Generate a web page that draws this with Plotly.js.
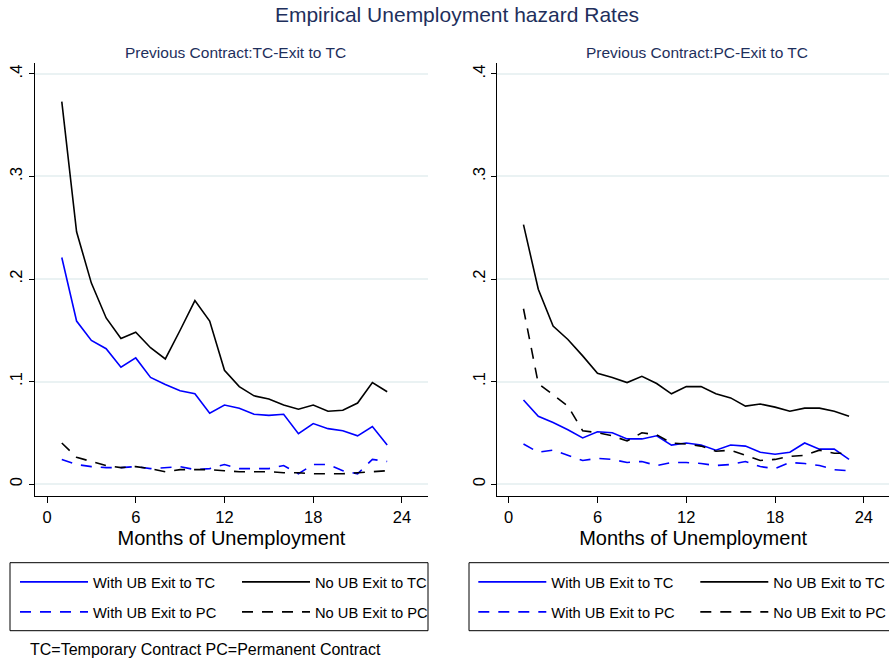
<!DOCTYPE html>
<html>
<head>
<meta charset="utf-8">
<script src="https://cdn.plot.ly/plotly-3.0.1.min.js"></script>
<style>html,body{margin:0;padding:0;background:#fff;}#chart{width:889px;height:659px;}</style>
</head>
<body>
<div id="chart"></div>
<script>
// ---- Data ----
const months = [1,2,3,4,5,6,7,8,9,10,11,12,13,14,15,16,17,18,19,20,21,22,23];

// Panel 1: Previous Contract: TC
const tcWithUBtoTC = [0.221,0.159,0.140,0.132,0.114,0.123,0.104,0.097,0.091,0.088,0.069,0.077,0.074,0.068,0.067,0.068,0.049,0.059,0.054,0.052,0.047,0.056,0.038];
const tcNoUBtoTC   = [0.373,0.246,0.196,0.162,0.142,0.148,0.133,0.122,0.150,0.179,0.159,0.111,0.095,0.086,0.083,0.077,0.073,0.077,0.071,0.072,0.079,0.099,0.090];
const tcWithUBtoPC = [0.024,0.019,0.017,0.016,0.016,0.017,0.015,0.016,0.017,0.014,0.015,0.019,0.015,0.015,0.015,0.018,0.010,0.019,0.019,0.013,0.010,0.024,0.022];
const tcNoUBtoPC   = [0.040,0.026,0.022,0.018,0.016,0.017,0.015,0.012,0.014,0.014,0.014,0.013,0.012,0.012,0.012,0.011,0.011,0.010,0.010,0.010,0.011,0.012,0.013];

// Panel 2: Previous Contract: PC
const pcWithUBtoTC = [0.082,0.066,0.060,0.053,0.045,0.051,0.050,0.044,0.044,0.047,0.038,0.040,0.038,0.033,0.038,0.037,0.031,0.029,0.031,0.040,0.034,0.034,0.024];
const pcNoUBtoTC   = [0.253,0.190,0.154,0.141,0.125,0.108,0.104,0.099,0.105,0.098,0.088,0.095,0.095,0.088,0.084,0.076,0.078,0.075,0.071,0.074,0.074,0.071,0.066];
const pcWithUBtoPC = [0.039,0.031,0.033,0.028,0.023,0.025,0.024,0.021,0.022,0.018,0.021,0.021,0.020,0.018,0.019,0.022,0.017,0.015,0.021,0.020,0.018,0.014,0.013];
const pcNoUBtoPC   = [0.171,0.098,0.087,0.076,0.052,0.050,0.047,0.042,0.050,0.048,0.040,0.039,0.037,0.032,0.033,0.028,0.023,0.024,0.027,0.028,0.033,0.030,0.030];

const seriesNames = ['With UB Exit to TC','No UB Exit to TC','With UB Exit to PC','No UB Exit to PC'];
const panelTitles = ['Previous Contract:TC-Exit to TC','Previous Contract:PC-Exit to TC'];
const xTickVals = [0,6,12,18,24];
const yTickVals = [0,0.1,0.2,0.3,0.4];
const yTickText = ['0','.1','.2','.3','.4'];
const mainTitle = 'Empirical Unemployment hazard Rates';
const xTitle = 'Months of Unemployment';
const footnote = 'TC=Temporary Contract PC=Permanent Contract';

// ---- Layout helpers ----
const W = 889, H = 659;
const px = v => v / W;
const py = v => 1 - v / H;
const FONT = 'Liberation Sans, Arial, Helvetica, sans-serif';
const BLUE = '#0000ff', BLACK = '#000000';
const DASH = '11px,9px';

function tr(y, name, color, dash, xa, ya, legend) {
  return {
    x: months, y: y, name: name, type: 'scatter', mode: 'lines',
    line: {color: color, width: 1.6, dash: dash},
    xaxis: xa, yaxis: ya, legend: legend, hoverinfo: 'x+y+name'
  };
}

const data = [
  tr(tcWithUBtoTC, seriesNames[0], BLUE,  'solid', 'x',  'y',  'legend'),
  tr(tcNoUBtoTC,   seriesNames[1], BLACK, 'solid', 'x',  'y',  'legend'),
  tr(tcWithUBtoPC, seriesNames[2], BLUE,  DASH,    'x',  'y',  'legend2'),
  tr(tcNoUBtoPC,   seriesNames[3], BLACK, DASH,    'x',  'y',  'legend2'),
  tr(pcWithUBtoTC, seriesNames[0], BLUE,  'solid', 'x2', 'y2', 'legend3'),
  tr(pcNoUBtoTC,   seriesNames[1], BLACK, 'solid', 'x2', 'y2', 'legend3'),
  tr(pcWithUBtoPC, seriesNames[2], BLUE,  DASH,    'x2', 'y2', 'legend4'),
  tr(pcNoUBtoPC,   seriesNames[3], BLACK, DASH,    'x2', 'y2', 'legend4')
];

function xAxis(domain, range, anchor) {
  return {
    domain: domain, range: range, anchor: anchor,
    tickmode: 'array', tickvals: xTickVals, ticktext: xTickVals.map(String),
    ticks: 'outside', ticklen: 6, tickwidth: 1, tickcolor: '#000',
    showline: true, linecolor: '#000', linewidth: 1,
    showgrid: false, zeroline: false,
    tickfont: {family: FONT, size: 16.5, color: '#000'},
    title: {text: xTitle, font: {family: FONT, size: 20, color: '#000'}, standoff: 6},
    fixedrange: true
  };
}
function yAxis(domain, anchor) {
  return {
    domain: domain, range: [-0.0114, 0.4112], anchor: anchor,
    tickmode: 'array', tickvals: yTickVals, ticktext: yTickText,
    tickangle: -90,
    ticks: 'outside', ticklen: 5, tickwidth: 1, tickcolor: '#000',
    showline: true, linecolor: '#000', linewidth: 1,
    showgrid: true, gridcolor: '#eaf2f3', gridwidth: 2,
    zeroline: false,
    tickfont: {family: FONT, size: 16.5, color: '#000'},
    fixedrange: true
  };
}

function legendAt(xLeft, yTop) {
  return {
    orientation: 'h', x: px(xLeft), xanchor: 'left', y: py(yTop), yanchor: 'top',
    xref: 'paper', yref: 'paper',
    bgcolor: 'rgba(0,0,0,0)', borderwidth: 0,
    itemwidth: 68, entrywidth: 139, entrywidthmode: 'pixels',
    traceorder: 'normal',
    font: {family: FONT, size: 14.7, color: '#000'},
    itemclick: false, itemdoubleclick: false
  };
}

const titleColor = '#1e2f5c';
const yDomain = [py(495.7), py(62.5)];

const layout = {
  width: W, height: H,
  margin: {l: 0, r: 0, t: 0, b: 0, autoexpand: false},
  paper_bgcolor: '#ffffff', plot_bgcolor: '#ffffff',
  font: {family: FONT, color: '#000'},
  title: {text: mainTitle, x: 457 / W, xanchor: 'center', xref: 'container',
          y: 1 - 15 / H, yanchor: 'middle', yref: 'container',
          font: {family: FONT, size: 21, color: titleColor}},
  xaxis:  xAxis([px(35), px(428)], [-0.811, 25.76], 'y'),
  yaxis:  yAxis(yDomain, 'x'),
  xaxis2: xAxis([px(497.3), 1], [-0.77, 25.7], 'y2'),
  yaxis2: yAxis(yDomain, 'x2'),
  legend:  legendAt(15, 565.8),
  legend2: legendAt(15, 595.8),
  legend3: legendAt(473.3, 565.8),
  legend4: legendAt(473.3, 595.8),
  shapes: [
    {type: 'rect', xref: 'paper', yref: 'paper', x0: px(10), x1: px(428), y0: py(630.7), y1: py(562.7),
     line: {color: '#000', width: 1}, fillcolor: 'rgba(0,0,0,0)', layer: 'above'},
    {type: 'rect', xref: 'paper', yref: 'paper', x0: px(469), x1: px(893), y0: py(630.7), y1: py(562.7),
     line: {color: '#000', width: 1}, fillcolor: 'rgba(0,0,0,0)', layer: 'above'}
  ],
  annotations: [
    {text: panelTitles[0], xref: 'paper', yref: 'paper', x: px(236), y: py(52), xanchor: 'center', yanchor: 'middle',
     showarrow: false, font: {family: FONT, size: 15.5, color: titleColor}},
    {text: panelTitles[1], xref: 'paper', yref: 'paper', x: px(697), y: py(52), xanchor: 'center', yanchor: 'middle',
     showarrow: false, font: {family: FONT, size: 15.5, color: titleColor}},
    {text: footnote, xref: 'paper', yref: 'paper', x: px(28), y: py(649), xanchor: 'left', yanchor: 'middle',
     showarrow: false, font: {family: FONT, size: 16, color: '#000'}}
  ],
  showlegend: true
};

Plotly.newPlot('chart', data, layout, {displayModeBar: false, responsive: false, staticPlot: false});
</script>
</body>
</html>
